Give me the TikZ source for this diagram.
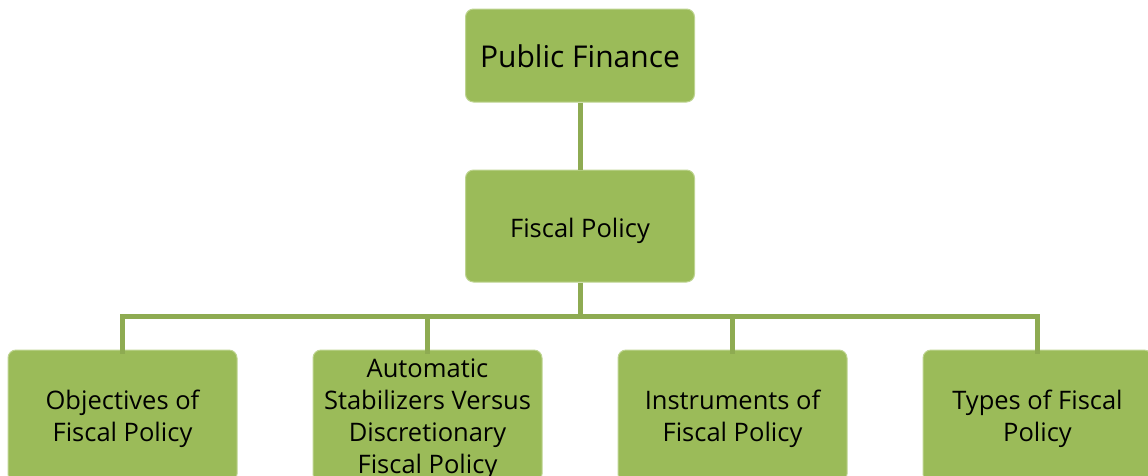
\documentclass[tikz,border=0pt]{standalone}
\usepackage{fontspec}
\setmainfont{Open Sans}
\definecolor{boxgreen}{RGB}{155,187,89}
\definecolor{boxedge}{RGB}{190,212,145}
\definecolor{linegreen}{RGB}{142,171,82}
\tikzset{
  box/.style={draw=boxedge, line width=1pt, fill=boxgreen, rounded corners=8pt,
    minimum width=229pt, align=center, text=black, inner sep=0pt},
  leaf/.style={box, minimum height=132pt, font=\fontsize{25.5}{32}\selectfont},
  conn/.style={draw=linegreen, line width=5pt},
}
\begin{document}
\begin{tikzpicture}[x=1pt,y=-1pt]
\useasboundingbox (0,0) rectangle (1148,475);
\clip (0,0) rectangle (1148,475);
\node[box, minimum height=93pt, font=\fontsize{30}{36}\selectfont] (pf) at (580,55.5) {\rule{0pt}{25pt}Public Finance};
\node[box, minimum height=112pt, font=\fontsize{25.5}{32}\selectfont] (fp) at (580,226) {\rule{0pt}{29pt}Fiscal Policy};
\node[leaf] (obj) at (122.5,416) {\rule{0pt}{26pt}Objectives of\\Fiscal Policy};
\node[leaf] (aut) at (427.5,416) {\rule{0pt}{26pt}Automatic\\Stabilizers Versus\\Discretionary\\Fiscal Policy};
\node[leaf] (ins) at (732.5,416) {\rule{0pt}{26pt}Instruments of\\Fiscal Policy};
\node[leaf] (typ) at (1037.5,416) {\rule{0pt}{26pt}Types of Fiscal\\Policy};
\coordinate (hub) at (580,316);
\draw[conn] (pf.south) -- (fp.north);
\draw[conn] (fp.south) -- (hub);
\draw[conn] ([yshift=-4pt]obj.north) |- (hub);
\draw[conn] ([yshift=-4pt]typ.north) |- (hub);
\draw[conn] ([yshift=-4pt]aut.north) -- (aut.north |- hub);
\draw[conn] ([yshift=-4pt]ins.north) -- (ins.north |- hub);
\end{tikzpicture}
\end{document}
